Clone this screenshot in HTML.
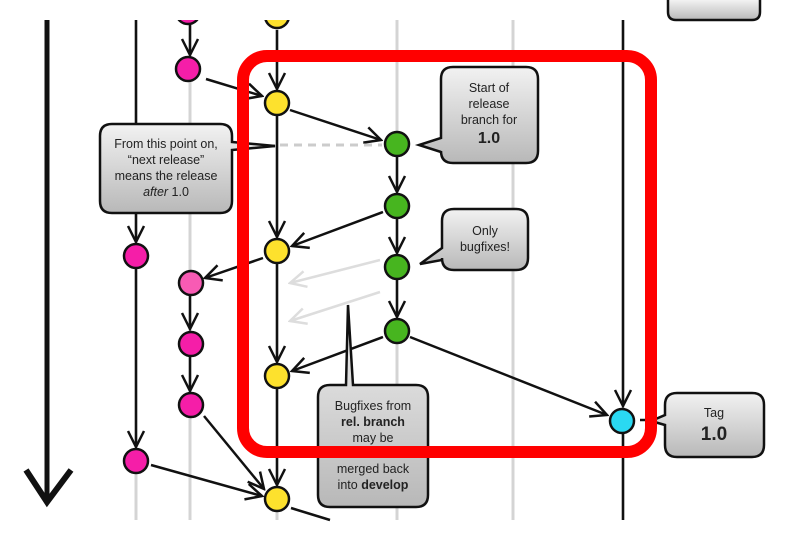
<!DOCTYPE html>
<html><head><style>
html,body{margin:0;padding:0;background:#fff;}
svg{display:block;font-family:"Liberation Sans",sans-serif;}
</style></head><body>
<svg width="798" height="533" viewBox="0 0 798 533" xmlns="http://www.w3.org/2000/svg">
<defs>
<linearGradient id="g" x1="0" y1="0" x2="0" y2="1">
<stop offset="0" stop-color="#f2f2f2"/><stop offset="1" stop-color="#b8b8b8"/>
</linearGradient>
<marker id="a" viewBox="0 0 20 20" refX="18" refY="10" markerWidth="20" markerHeight="20" markerUnits="userSpaceOnUse" orient="auto">
<polyline points="2,2 18,10 2,18" fill="none" stroke="#111" stroke-width="2.5"/>
</marker>
<marker id="ag" viewBox="0 0 20 20" refX="18" refY="10" markerWidth="20" markerHeight="20" markerUnits="userSpaceOnUse" orient="auto">
<polyline points="2,2 18,10 2,18" fill="none" stroke="#ddd" stroke-width="2.5"/>
</marker>
</defs>
<g stroke="#d4d4d4" stroke-width="3">
<line x1="136" y1="20" x2="136" y2="520"/>
<line x1="190" y1="20" x2="190" y2="520"/>
<line x1="277" y1="20" x2="277" y2="520"/>
<line x1="397" y1="20" x2="397" y2="520"/>
<line x1="513" y1="20" x2="513" y2="520"/>
<line x1="623" y1="20" x2="623" y2="520"/>
</g>
<line x1="47" y1="20" x2="47" y2="500" stroke="#111" stroke-width="5"/>
<polyline points="26,470 47,502 71,470" fill="none" stroke="#111" stroke-width="6"/>
<g stroke="#111" stroke-width="2.5" fill="none">
<line x1="136" y1="20" x2="136" y2="125"/>
<line x1="136" y1="213" x2="136" y2="242" marker-end="url(#a)"/>
<line x1="136" y1="268" x2="136" y2="447" marker-end="url(#a)"/>
<line x1="623" y1="20" x2="623" y2="406" marker-end="url(#a)"/>
<line x1="623" y1="434" x2="623" y2="520"/>
<line x1="190" y1="20" x2="190" y2="55" marker-end="url(#a)"/>
<line x1="190" y1="296" x2="190" y2="329" marker-end="url(#a)"/>
<line x1="190" y1="356" x2="190" y2="391" marker-end="url(#a)"/>
<line x1="277" y1="30" x2="277" y2="89" marker-end="url(#a)"/>
<line x1="277" y1="116" x2="277" y2="237" marker-end="url(#a)"/>
<line x1="277" y1="264" x2="277" y2="362" marker-end="url(#a)"/>
<line x1="277" y1="389" x2="277" y2="485" marker-end="url(#a)"/>
<line x1="397" y1="157" x2="397" y2="192" marker-end="url(#a)"/>
<line x1="397" y1="219" x2="397" y2="253" marker-end="url(#a)"/>
<line x1="397" y1="280" x2="397" y2="317" marker-end="url(#a)"/>
<line x1="206" y1="79" x2="262" y2="96" marker-end="url(#a)"/>
<line x1="290" y1="110" x2="381" y2="140" marker-end="url(#a)"/>
<line x1="383" y1="212" x2="292" y2="246" marker-end="url(#a)"/>
<line x1="263" y1="258" x2="205" y2="278" marker-end="url(#a)"/>
<line x1="383" y1="337" x2="292" y2="371" marker-end="url(#a)"/>
<line x1="410" y1="337" x2="607" y2="415" marker-end="url(#a)"/>
<line x1="204" y1="416" x2="264" y2="489" marker-end="url(#a)"/>
<line x1="151" y1="465" x2="262" y2="496" marker-end="url(#a)"/>
<line x1="291" y1="508" x2="330" y2="520"/>
<line x1="232" y1="146" x2="275" y2="146"/>
<line x1="640" y1="420" x2="650" y2="420"/>
</g>
<line x1="280" y1="145" x2="382" y2="145" stroke="#ccc" stroke-width="3" stroke-dasharray="8,6"/>
<line x1="380" y1="260" x2="290" y2="283" stroke="#ddd" stroke-width="2.5" marker-end="url(#ag)"/>
<line x1="380" y1="292" x2="290" y2="321" stroke="#ddd" stroke-width="2.5" marker-end="url(#ag)"/>
<g stroke="#111" stroke-width="2.5">
<circle cx="277" cy="16" r="12" fill="#fde12d"/>
<circle cx="188" cy="12" r="12" fill="#f51ea8"/>
<circle cx="188" cy="69" r="12" fill="#f51ea8"/>
<circle cx="277" cy="103" r="12" fill="#fde12d"/>
<circle cx="397" cy="144" r="12" fill="#47b51f"/>
<circle cx="397" cy="206" r="12" fill="#47b51f"/>
<circle cx="397" cy="267" r="12" fill="#47b51f"/>
<circle cx="397" cy="331" r="12" fill="#47b51f"/>
<circle cx="277" cy="251" r="12" fill="#fde12d"/>
<circle cx="277" cy="376" r="12" fill="#fde12d"/>
<circle cx="277" cy="499" r="12" fill="#fde12d"/>
<circle cx="136" cy="256" r="12" fill="#f51ea8"/>
<circle cx="191" cy="283" r="12" fill="#f85bb4"/>
<circle cx="191" cy="344" r="12" fill="#f51ea8"/>
<circle cx="191" cy="405" r="12" fill="#f51ea8"/>
<circle cx="136" cy="461" r="12" fill="#f51ea8"/>
<circle cx="622" cy="421" r="12" fill="#2ad9f2"/>
</g>
<rect x="0" y="0" width="798" height="20" fill="#fff"/>
<g stroke="#111" stroke-width="2.5" fill="url(#g)">
<path d="M668,0 L668,12 Q668,20 676,20 L752,20 Q760,20 760,12 L760,0" />
<path d="M112,124 L220,124 Q232,124 232,136 L232,142 L275,146 L232,150 L232,201 Q232,213 220,213 L112,213 Q100,213 100,201 L100,136 Q100,124 112,124 Z"/>
<path d="M453,67 L526,67 Q538,67 538,79 L538,151 Q538,163 526,163 L453,163 Q441,163 441,151 L441,152 L419,145 L441,138 L441,79 Q441,67 453,67 Z"/>
<path d="M454,209 L516,209 Q528,209 528,221 L528,258 Q528,270 516,270 L454,270 Q442,270 442,258 L442,260 L420,264 L442,248 L442,221 Q442,209 454,209 Z"/>
<path d="M330,385 L346,385 L348,305 L353,385 L416,385 Q428,385 428,397 L428,495 Q428,507 416,507 L330,507 Q318,507 318,495 L318,397 Q318,385 330,385 Z"/>
<path d="M677,393 L752,393 Q764,393 764,405 L764,445 Q764,457 752,457 L677,457 Q665,457 665,445 L665,425 L651,421 L665,415 L665,405 Q665,393 677,393 Z"/>
</g>
<g font-size="12.5" fill="#222" text-anchor="middle">
<text x="166" y="148">From this point on,</text>
<text x="166" y="164">“next release”</text>
<text x="166" y="180">means the release</text>
<text x="166" y="196"><tspan font-style="italic">after</tspan> 1.0</text>
<text x="489" y="92">Start of</text>
<text x="489" y="108">release</text>
<text x="489" y="124">branch for</text>
<text x="489" y="143" font-size="16" font-weight="bold">1.0</text>
<text x="485" y="235">Only</text>
<text x="485" y="251">bugfixes!</text>
<text x="373" y="410">Bugfixes from</text>
<text x="373" y="426" font-weight="bold">rel. branch</text>
<text x="373" y="442">may be</text>
<text x="373" y="473">merged back</text>
<text x="373" y="489">into <tspan font-weight="bold">develop</tspan></text>
<text x="714" y="417">Tag</text>
<text x="714" y="440" font-size="19" font-weight="bold">1.0</text>
</g>
<rect x="243" y="56" width="408" height="396" rx="24" fill="none" stroke="#f00" stroke-width="12"/>
</svg>
</body></html>
